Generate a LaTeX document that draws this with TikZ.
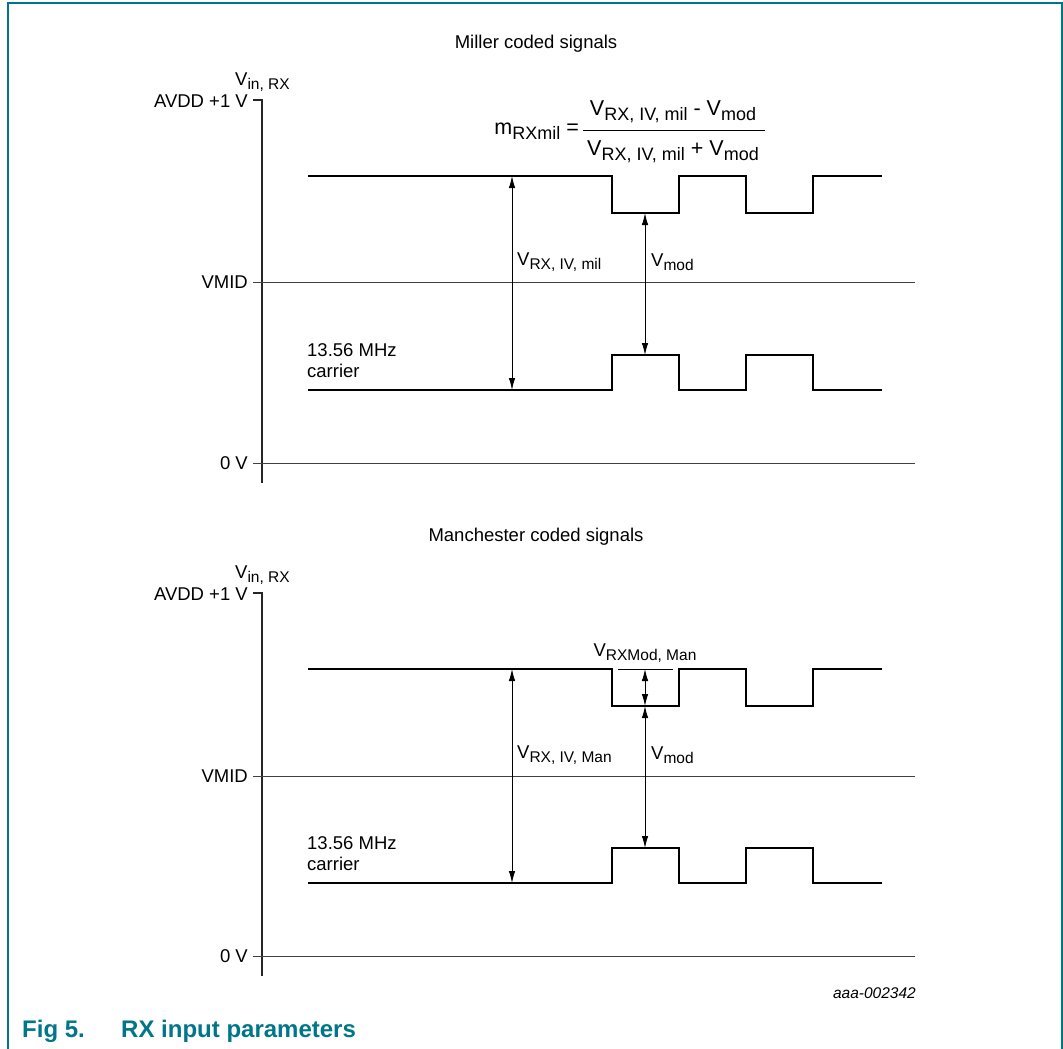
\documentclass[tikz,border=0pt]{standalone}
\usepackage{fontspec}
\setmainfont{Liberation Sans}
\usetikzlibrary{arrows.meta}

\definecolor{nxpteal}{RGB}{0,118,138}
% Buchstabe mit tiefgestelltem Index, Indexgroesse optional
\newcommand{\vsub}[3][15.5]{#2\raisebox{-0.29\dimexpr #1pt\relax}{\fontsize{#1}{#1}\selectfont #3}}

\tikzset{
  sig/.style={line width=2.6pt, line join=miter},
  level/.style={line width=1pt, black!75},
  axis/.style={line width=1.4pt, black!85},
  dim/.style={line width=0.9pt, {Latex[length=12pt,width=6.5pt]}-{Latex[length=12pt,width=6.5pt]}},
  lbl/.style={font=\fontsize{18.5}{21}\selectfont, inner sep=0pt},
  eq/.style={font=\fontsize{21.5}{24}\selectfont, inner sep=0pt},
  caption/.style={font=\fontsize{24}{28}\selectfont\bfseries, text=nxpteal, inner sep=0pt, anchor=base west},
}

\begin{document}
\begin{tikzpicture}[x=1pt, y=-1pt]
        \useasboundingbox (0,0) rectangle (1063,1049);

        % Rahmen
        \draw[nxpteal, line width=2pt] (7.5,1049) -- (7.5,3.5) -- (1061.5,3.5) -- (1061.5,1049);

        % ---------- Miller ----------
        \node[lbl] (titleMil) at (536,44) {Miller coded signals};
        \node[lbl, anchor=base west] (vinMil) at (235,85) {\vsub{V}{in, RX}};
        \node[lbl, anchor=east] (avddMil) at (248,101) {AVDD +1 V};
        \node[lbl, anchor=east] (vmidMil) at (248,282) {VMID};
        \node[lbl, anchor=east] (zeroMil) at (248,463) {0 V};

        % Achsen
        \draw[axis] (253,100) -- (262,100) -- (262,483);
        \draw[level] (253,282) -- (915,282);
        \draw[level] (253,463) -- (915,463);

        % Signale
        \draw[sig] (308,176) -- (612,176) -- (612,213) -- (679,213) -- (679,176)
            -- (746,176) -- (746,213) -- (813,213) -- (813,176) -- (882,176);
        \draw[sig] (308,390) -- (612,390) -- (612,355) -- (679,355) -- (679,390)
            -- (746,390) -- (746,355) -- (813,355) -- (813,390) -- (882,390);

        \node[lbl, anchor=north west, align=left] (carMil) at (307,343) {13.56 MHz\\carrier};

        % Pfeile
        \coordinate (hiMil) at (512,176);
        \coordinate (loMil) at (512,390);
        \coordinate (dipMil) at (645,213);
        \coordinate (bumpMil) at (645,355);
        \draw[dim] (hiMil) -- (loMil);
        \draw[dim] (dipMil) -- (bumpMil);
        \node[lbl, anchor=west] (ivMil) at (517,262) {\vsub{V}{RX, IV, mil}};
        \node[lbl, anchor=west] (modMil) at (651,262) {\vsub{V}{mod}};

        % Formel
        \node[eq, anchor=east] (mMil) at (579,131) {\vsub[18]{m}{RXmil} =};
        \node[eq] (numMil) at (673,112) {\vsub[18]{V}{RX, IV, mil} - \vsub[18]{V}{mod}};
        \node[eq] (denMil) at (673,152) {\vsub[18]{V}{RX, IV, mil} + \vsub[18]{V}{mod}};
        \draw[line width=0.9pt] (583,130) -- (765,130);

        % ---------- Manchester ----------
        \node[lbl] (titleMan) at (536,537) {Manchester coded signals};
        \node[lbl, anchor=base west] (vinMan) at (235,578) {\vsub{V}{in, RX}};
        \node[lbl, anchor=east] (avddMan) at (248,594) {AVDD +1 V};
        \node[lbl, anchor=east] (vmidMan) at (248,776) {VMID};
        \node[lbl, anchor=east] (zeroMan) at (248,956) {0 V};

        % Achsen
        \draw[axis] (253,593) -- (262,593) -- (262,976);
        \draw[level] (253,776) -- (915,776);
        \draw[level] (253,956) -- (915,956);

        % Signale
        \draw[sig] (308,669) -- (612,669) -- (612,706) -- (679,706) -- (679,669)
            -- (746,669) -- (746,706) -- (813,706) -- (813,669) -- (882,669);
        \draw[sig] (308,883) -- (612,883) -- (612,848) -- (679,848) -- (679,883)
            -- (746,883) -- (746,848) -- (813,848) -- (813,883) -- (882,883);

        \node[lbl, anchor=north west, align=left] (carMan) at (307,836) {13.56 MHz\\carrier};

        % Pfeile
        \coordinate (hiMan) at (512,669);
        \coordinate (loMan) at (512,883);
        \coordinate (refL) at (618,669);
        \coordinate (refR) at (673,669);
        \coordinate (refM) at (645,669);
        \coordinate (dipMan) at (645,706);
        \coordinate (bumpMan) at (645,848);
        \draw[line width=0.9pt] (refL) -- (refR);
        \draw[dim] (hiMan) -- (loMan);
        \draw[dim] (refM) -- (dipMan);
        \draw[dim] (dipMan) -- (bumpMan);
        \node[lbl, anchor=west] (ivMan) at (517,755) {\vsub{V}{RX, IV, Man}};
        \node[lbl, anchor=west] (modMan) at (651,755) {\vsub{V}{mod}};
        \node[lbl, anchor=base] (rxmodMan) at (645,656) {\vsub{V}{RXMod, Man}};

        % Kennung und Unterschrift
        \node[font=\fontsize{15.5}{18}\selectfont\itshape, inner sep=0pt, anchor=east] (figId) at (916,993) {aaa-002342};
        \node[caption] (figNo) at (22,1037) {Fig 5.};
        \node[caption] (figText) at (121,1037) {RX input parameters};

\end{tikzpicture}
\end{document}
